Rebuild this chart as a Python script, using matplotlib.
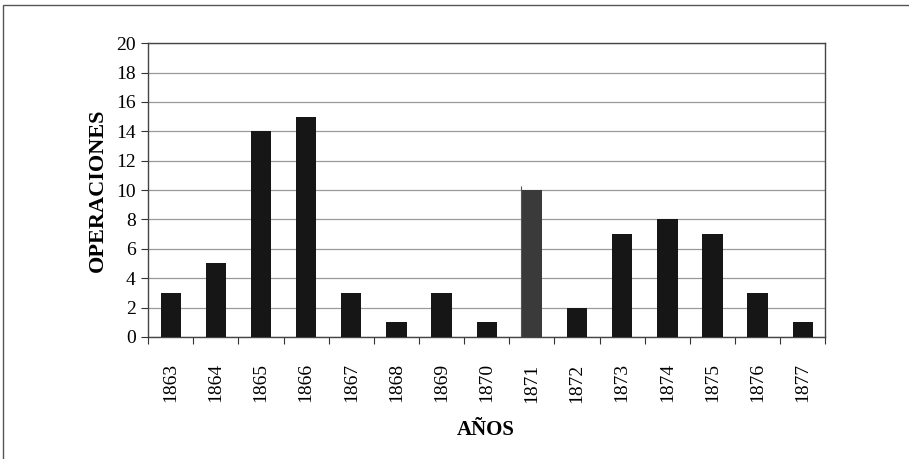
import numpy as np
from matplotlib import pyplot as plt
from matplotlib.patches import Rectangle

##########
#  Data  #
##########

years = ["1863", "1864", "1865", "1866", "1867", "1868", "1869", "1870",
         "1871", "1872", "1873", "1874", "1875", "1876", "1877"]
operaciones = [3, 5, 14, 15, 3, 1, 3, 1, 10, 2, 7, 8, 7, 3, 1]
bar_colors = ["#161616"] * 8 + ["#3a3a3a"] + ["#161616"] * 6

##########
# Script #
##########

plt.rcParams['font.family'] = ['Liberation Serif', 'DejaVu Serif']

fig = plt.figure(figsize=(9.09, 4.59), dpi=100)
ax = fig.add_axes([0.163, 0.266, 0.745, 0.640])

x = np.arange(len(years))
ax.bar(x, operaciones, width=0.45, color=bar_colors, zorder=3)

# scan artefact: thin line on the left of the 1871 bar
ax.vlines(x[8] - 0.24, 0, 10.3, color="#555555", linewidth=0.8, zorder=2)

ax.set_xlim(-0.5, len(years) - 0.5)
ax.set_ylim(0, 20)
ax.set_yticks(np.arange(0, 21, 2))
ax.yaxis.grid(True, color="#9a9a9a", linewidth=0.9, zorder=0)
ax.set_axisbelow(True)

# ticks between categories, labels at centres
ax.set_xticks(np.arange(-0.5, len(years), 1.0))
ax.set_xticklabels([])
ax.set_xticks(x, minor=True)
ax.set_xticklabels(years, minor=True, rotation=90, fontsize=14)
ax.tick_params(axis="x", which="minor", length=0, pad=19)
ax.tick_params(axis="x", which="major", length=5, direction="out", color="#333333")
ax.tick_params(axis="y", length=5, direction="out", labelsize=14, pad=4, color="#333333")

for s in ax.spines.values():
    s.set_color("#444444")
    s.set_linewidth(1.0)

ax.set_ylabel("OPERACIONES", fontsize=16, fontweight="bold", labelpad=6)
fig.text(0.534, 0.063, "AÑOS", fontsize=15, fontweight="bold", ha="center", va="center")

# outer frame of the scanned figure
fig.patches.append(Rectangle((0.003, -0.05), 1.2, 1.04, transform=fig.transFigure,
                             fill=False, edgecolor="#555555", linewidth=1.0))

fig.savefig("out.png", dpi=100)
